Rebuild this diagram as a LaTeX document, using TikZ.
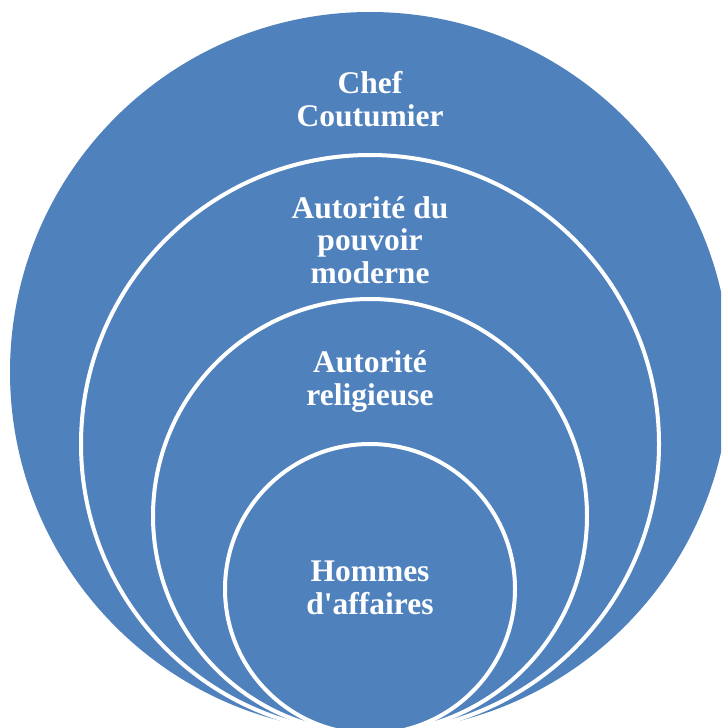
\documentclass[tikz,border=0pt]{standalone}
\usepackage{fontspec}
\setmainfont{Liberation Serif}[Ligatures=TeXOff]
\definecolor{ringblue}{HTML}{4F81BD}
\begin{document}
\begin{tikzpicture}[x=1pt,y=-1pt,
  ring/.style={draw=white,line width=4pt},
  label/.style={text=white,font=\fontsize{31.5}{32.5}\selectfont\bfseries,align=center,anchor=base,inner sep=0pt}]
\useasboundingbox (0,0) rectangle (721,728);
\clip (0,0) rectangle (721,728);
\fill[ringblue] (370,372) circle (360);
\draw[ring] (370,444) circle (289);
\draw[ring] (370,516) circle (217);
\draw[ring] (370,589) circle (145);
\node[label] (chef) at (370,126) {Chef\\Coutumier};
\node[label] (auto) at (370,283) {Autorité du\\pouvoir\\moderne};
\node[label] (relig) at (370,405) {Autorité\\religieuse};
\node[label] (hommes) at (370,614) {Hommes\\d'affaires};
\end{tikzpicture}
\end{document}
